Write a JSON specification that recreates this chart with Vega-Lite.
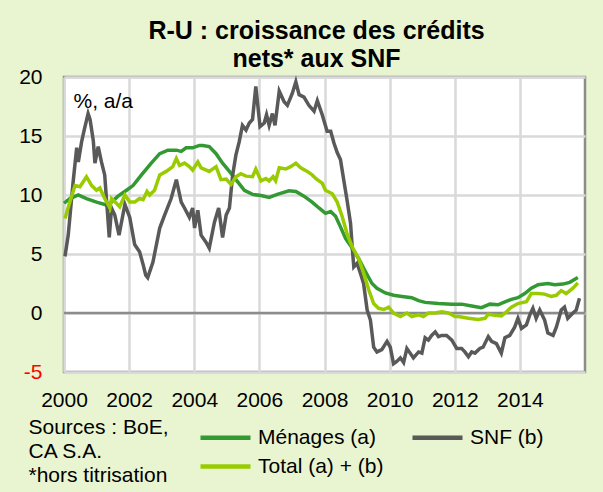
{
  "$schema": "https://vega.github.io/schema/vega-lite/v6.json",
  "width": 521,
  "height": 295,
  "autosize": {"type": "none"},
  "padding": {"left": 64, "top": 77, "right": 18, "bottom": 120},
  "background": "#e9f5d0",
  "title": {
    "text": ["R-U : croissance des crédits", "nets* aux SNF"],
    "font": "Liberation Sans",
    "fontSize": 25,
    "fontWeight": "bold",
    "color": "black",
    "anchor": "middle",
    "baseline": "alphabetic",
    "offset": 12,
    "dy": 38,
    "lineHeight": 28.3,
    "dx": -8
  },
  "config": {
    "view": {"fill": "white", "stroke": "#8c8c8c", "strokeWidth": 2.5},
    "font": "Liberation Sans",
    "legend": {
      "orient": "none",
      "direction": "horizontal",
      "legendX": 151,
      "legendY": 350,
      "columns": 2,
      "symbolType": "M-5,0H5",
      "symbolSize": 100,
      "symbolStrokeWidth": 4.5,
      "labelFontSize": 21,
      "labelFont": "Liberation Sans",
      "labelColor": "black",
      "labelOffset": 22,
      "columnPadding": 19,
      "rowPadding": 7,
      "labelLimit": 300
    }
  },
  "datasets": {
    "menages": [
      {"d": 2000.00, "v": 9.3}, {"d": 2000.18, "v": 9.7}, {"d": 2000.44, "v": 10.0}, {"d": 2000.69, "v": 9.7},
      {"d": 2001.00, "v": 9.4}, {"d": 2001.31, "v": 9.15}, {"d": 2001.46, "v": 9.4}, {"d": 2001.66, "v": 9.9},
      {"d": 2001.92, "v": 10.4}, {"d": 2002.12, "v": 10.8}, {"d": 2002.38, "v": 11.7}, {"d": 2002.68, "v": 12.7},
      {"d": 2002.94, "v": 13.5}, {"d": 2003.19, "v": 13.8}, {"d": 2003.45, "v": 13.8}, {"d": 2003.60, "v": 13.7},
      {"d": 2003.75, "v": 14.0}, {"d": 2003.95, "v": 14.0}, {"d": 2004.16, "v": 14.2}, {"d": 2004.26, "v": 14.2},
      {"d": 2004.46, "v": 14.1}, {"d": 2004.67, "v": 13.5}, {"d": 2004.87, "v": 12.7}, {"d": 2005.08, "v": 12.0},
      {"d": 2005.28, "v": 11.3}, {"d": 2005.54, "v": 10.4}, {"d": 2005.79, "v": 10.05}, {"d": 2006.05, "v": 9.95},
      {"d": 2006.30, "v": 9.8}, {"d": 2006.55, "v": 10.05}, {"d": 2006.91, "v": 10.35}, {"d": 2007.12, "v": 10.3},
      {"d": 2007.37, "v": 9.9}, {"d": 2007.62, "v": 9.4}, {"d": 2007.83, "v": 8.9}, {"d": 2008.03, "v": 8.45},
      {"d": 2008.19, "v": 8.6}, {"d": 2008.34, "v": 8.2}, {"d": 2008.49, "v": 7.3}, {"d": 2008.65, "v": 6.3},
      {"d": 2008.85, "v": 5.5}, {"d": 2009.05, "v": 4.6}, {"d": 2009.26, "v": 3.5}, {"d": 2009.46, "v": 2.5},
      {"d": 2009.61, "v": 2.1}, {"d": 2009.87, "v": 1.7}, {"d": 2010.12, "v": 1.5}, {"d": 2010.38, "v": 1.4},
      {"d": 2010.68, "v": 1.3}, {"d": 2010.89, "v": 1.05}, {"d": 2011.09, "v": 0.9}, {"d": 2011.50, "v": 0.8},
      {"d": 2011.91, "v": 0.75}, {"d": 2012.21, "v": 0.75}, {"d": 2012.52, "v": 0.6}, {"d": 2012.82, "v": 0.45},
      {"d": 2013.08, "v": 0.75}, {"d": 2013.33, "v": 0.7}, {"d": 2013.54, "v": 0.95}, {"d": 2013.74, "v": 1.15},
      {"d": 2013.94, "v": 1.3}, {"d": 2014.15, "v": 1.65}, {"d": 2014.35, "v": 2.1}, {"d": 2014.56, "v": 2.4},
      {"d": 2014.86, "v": 2.5}, {"d": 2015.07, "v": 2.4}, {"d": 2015.32, "v": 2.45}, {"d": 2015.53, "v": 2.6},
      {"d": 2015.78, "v": 3.0}
    ],
    "snf": [
      {"d": 2000.03, "v": 4.8}, {"d": 2000.13, "v": 6.6}, {"d": 2000.28, "v": 11.1}, {"d": 2000.39, "v": 14.0},
      {"d": 2000.44, "v": 12.8}, {"d": 2000.54, "v": 14.5}, {"d": 2000.62, "v": 15.5}, {"d": 2000.74, "v": 16.9},
      {"d": 2000.80, "v": 16.4}, {"d": 2000.90, "v": 14.6}, {"d": 2000.95, "v": 12.7}, {"d": 2001.05, "v": 14.1},
      {"d": 2001.15, "v": 12.8}, {"d": 2001.25, "v": 11.7}, {"d": 2001.39, "v": 6.4}, {"d": 2001.46, "v": 8.9},
      {"d": 2001.56, "v": 8.3}, {"d": 2001.69, "v": 6.6}, {"d": 2001.87, "v": 9.2}, {"d": 2002.02, "v": 8.1},
      {"d": 2002.17, "v": 5.8}, {"d": 2002.32, "v": 5.2}, {"d": 2002.43, "v": 4.1}, {"d": 2002.51, "v": 3.2},
      {"d": 2002.57, "v": 3.0}, {"d": 2002.73, "v": 4.3}, {"d": 2002.94, "v": 7.2}, {"d": 2003.09, "v": 8.3},
      {"d": 2003.29, "v": 9.7}, {"d": 2003.45, "v": 11.3}, {"d": 2003.60, "v": 9.4}, {"d": 2003.70, "v": 8.9},
      {"d": 2003.85, "v": 8.1}, {"d": 2003.95, "v": 8.9}, {"d": 2004.01, "v": 7.2}, {"d": 2004.11, "v": 8.7},
      {"d": 2004.21, "v": 6.6}, {"d": 2004.36, "v": 6.0}, {"d": 2004.46, "v": 5.5}, {"d": 2004.62, "v": 7.7},
      {"d": 2004.75, "v": 8.9}, {"d": 2004.87, "v": 6.4}, {"d": 2004.98, "v": 8.3}, {"d": 2005.08, "v": 8.9},
      {"d": 2005.18, "v": 11.7}, {"d": 2005.28, "v": 13.4}, {"d": 2005.38, "v": 14.5}, {"d": 2005.48, "v": 15.9},
      {"d": 2005.59, "v": 15.5}, {"d": 2005.69, "v": 16.1}, {"d": 2005.79, "v": 16.4}, {"d": 2005.89, "v": 19.2},
      {"d": 2006.02, "v": 15.8}, {"d": 2006.15, "v": 16.1}, {"d": 2006.22, "v": 16.8}, {"d": 2006.30, "v": 15.9},
      {"d": 2006.40, "v": 16.9}, {"d": 2006.48, "v": 15.9}, {"d": 2006.61, "v": 18.8}, {"d": 2006.76, "v": 17.9},
      {"d": 2006.86, "v": 17.6}, {"d": 2007.01, "v": 18.6}, {"d": 2007.12, "v": 19.6}, {"d": 2007.22, "v": 18.5},
      {"d": 2007.37, "v": 18.3}, {"d": 2007.52, "v": 17.6}, {"d": 2007.68, "v": 17.1}, {"d": 2007.78, "v": 18.0},
      {"d": 2007.93, "v": 16.8}, {"d": 2008.08, "v": 15.4}, {"d": 2008.19, "v": 15.4}, {"d": 2008.29, "v": 14.4},
      {"d": 2008.39, "v": 13.6}, {"d": 2008.49, "v": 13.0}, {"d": 2008.59, "v": 11.3}, {"d": 2008.69, "v": 9.6},
      {"d": 2008.80, "v": 7.6}, {"d": 2008.85, "v": 5.6}, {"d": 2008.90, "v": 3.9}, {"d": 2009.00, "v": 4.2},
      {"d": 2009.10, "v": 3.4}, {"d": 2009.20, "v": 2.5}, {"d": 2009.31, "v": 0.25}, {"d": 2009.41, "v": -0.6},
      {"d": 2009.51, "v": -2.9}, {"d": 2009.61, "v": -3.3}, {"d": 2009.76, "v": -3.1}, {"d": 2009.92, "v": -2.4},
      {"d": 2010.02, "v": -2.9}, {"d": 2010.12, "v": -4.3}, {"d": 2010.22, "v": -4.1}, {"d": 2010.33, "v": -3.8},
      {"d": 2010.43, "v": -4.2}, {"d": 2010.53, "v": -3.0}, {"d": 2010.63, "v": -3.4}, {"d": 2010.73, "v": -3.8},
      {"d": 2010.89, "v": -3.3}, {"d": 2010.99, "v": -3.4}, {"d": 2011.09, "v": -2.1}, {"d": 2011.19, "v": -2.3},
      {"d": 2011.29, "v": -1.9}, {"d": 2011.40, "v": -1.6}, {"d": 2011.50, "v": -2.0}, {"d": 2011.60, "v": -1.9},
      {"d": 2011.75, "v": -1.9}, {"d": 2011.91, "v": -2.3}, {"d": 2012.06, "v": -3.0}, {"d": 2012.21, "v": -3.0},
      {"d": 2012.31, "v": -3.3}, {"d": 2012.42, "v": -3.7}, {"d": 2012.52, "v": -3.3}, {"d": 2012.62, "v": -3.4},
      {"d": 2012.77, "v": -3.0}, {"d": 2012.87, "v": -2.9}, {"d": 2013.03, "v": -2.0}, {"d": 2013.13, "v": -2.4},
      {"d": 2013.28, "v": -2.6}, {"d": 2013.43, "v": -3.4}, {"d": 2013.54, "v": -2.1}, {"d": 2013.69, "v": -1.9},
      {"d": 2013.84, "v": -1.2}, {"d": 2013.94, "v": -0.45}, {"d": 2014.05, "v": -1.3}, {"d": 2014.20, "v": -1.0},
      {"d": 2014.30, "v": -0.2}, {"d": 2014.40, "v": 0.4}, {"d": 2014.50, "v": -0.45}, {"d": 2014.61, "v": 0.25},
      {"d": 2014.76, "v": -0.6}, {"d": 2014.86, "v": -1.7}, {"d": 2015.02, "v": -1.9}, {"d": 2015.12, "v": -1.2},
      {"d": 2015.27, "v": 0.25}, {"d": 2015.37, "v": 0.5}, {"d": 2015.47, "v": -0.45}, {"d": 2015.63, "v": 0.0},
      {"d": 2015.73, "v": 0.25}, {"d": 2015.83, "v": 1.25}
    ],
    "total": [
      {"d": 2000.03, "v": 8.0}, {"d": 2000.18, "v": 9.4}, {"d": 2000.34, "v": 10.8}, {"d": 2000.49, "v": 10.7},
      {"d": 2000.69, "v": 11.55}, {"d": 2000.85, "v": 10.8}, {"d": 2001.00, "v": 10.4}, {"d": 2001.10, "v": 10.6},
      {"d": 2001.25, "v": 9.7}, {"d": 2001.41, "v": 8.9}, {"d": 2001.46, "v": 9.7}, {"d": 2001.61, "v": 9.3},
      {"d": 2001.71, "v": 9.0}, {"d": 2001.87, "v": 10.0}, {"d": 2002.02, "v": 9.4}, {"d": 2002.17, "v": 9.4},
      {"d": 2002.32, "v": 9.7}, {"d": 2002.43, "v": 9.6}, {"d": 2002.55, "v": 10.3}, {"d": 2002.63, "v": 10.0},
      {"d": 2002.78, "v": 10.4}, {"d": 2002.94, "v": 11.7}, {"d": 2003.14, "v": 12.0}, {"d": 2003.34, "v": 12.4},
      {"d": 2003.45, "v": 13.1}, {"d": 2003.55, "v": 12.5}, {"d": 2003.70, "v": 12.7}, {"d": 2003.85, "v": 12.4},
      {"d": 2003.95, "v": 12.1}, {"d": 2004.11, "v": 12.8}, {"d": 2004.21, "v": 12.3}, {"d": 2004.46, "v": 12.0},
      {"d": 2004.67, "v": 12.4}, {"d": 2004.82, "v": 11.3}, {"d": 2004.98, "v": 11.35}, {"d": 2005.13, "v": 10.9},
      {"d": 2005.28, "v": 11.55}, {"d": 2005.43, "v": 11.8}, {"d": 2005.59, "v": 11.6}, {"d": 2005.79, "v": 11.55},
      {"d": 2005.89, "v": 12.2}, {"d": 2006.05, "v": 11.2}, {"d": 2006.20, "v": 11.4}, {"d": 2006.30, "v": 11.2},
      {"d": 2006.42, "v": 11.55}, {"d": 2006.50, "v": 11.2}, {"d": 2006.61, "v": 12.3}, {"d": 2006.81, "v": 12.2},
      {"d": 2006.96, "v": 12.4}, {"d": 2007.12, "v": 12.7}, {"d": 2007.27, "v": 12.3}, {"d": 2007.47, "v": 12.0},
      {"d": 2007.62, "v": 11.7}, {"d": 2007.73, "v": 11.4}, {"d": 2007.83, "v": 11.2}, {"d": 2007.93, "v": 11.0},
      {"d": 2008.03, "v": 10.4}, {"d": 2008.24, "v": 10.1}, {"d": 2008.39, "v": 9.4}, {"d": 2008.54, "v": 8.2},
      {"d": 2008.69, "v": 6.75}, {"d": 2008.85, "v": 5.6}, {"d": 2009.05, "v": 4.6}, {"d": 2009.20, "v": 3.4},
      {"d": 2009.36, "v": 1.95}, {"d": 2009.51, "v": 0.8}, {"d": 2009.66, "v": 0.4}, {"d": 2009.82, "v": 0.3},
      {"d": 2009.97, "v": 0.5}, {"d": 2010.12, "v": 0.0}, {"d": 2010.33, "v": -0.3}, {"d": 2010.53, "v": 0.0},
      {"d": 2010.68, "v": -0.3}, {"d": 2010.89, "v": -0.15}, {"d": 2011.04, "v": -0.3}, {"d": 2011.19, "v": 0.0},
      {"d": 2011.40, "v": 0.0}, {"d": 2011.60, "v": 0.1}, {"d": 2011.80, "v": 0.0}, {"d": 2012.01, "v": -0.3},
      {"d": 2012.11, "v": -0.3}, {"d": 2012.42, "v": -0.45}, {"d": 2012.72, "v": -0.55}, {"d": 2012.93, "v": -0.45},
      {"d": 2013.03, "v": -0.1}, {"d": 2013.23, "v": -0.2}, {"d": 2013.43, "v": -0.25}, {"d": 2013.59, "v": 0.1},
      {"d": 2013.74, "v": 0.5}, {"d": 2013.94, "v": 0.8}, {"d": 2014.20, "v": 0.95}, {"d": 2014.35, "v": 1.65},
      {"d": 2014.56, "v": 1.65}, {"d": 2014.76, "v": 1.6}, {"d": 2014.96, "v": 1.4}, {"d": 2015.12, "v": 1.5},
      {"d": 2015.27, "v": 1.9}, {"d": 2015.42, "v": 1.65}, {"d": 2015.63, "v": 2.1}, {"d": 2015.78, "v": 2.55}
    ]
  },
  "layer": [
    {
      "data": {"values": [{"z": 0}]},
      "mark": {"type": "rule", "color": "#8c8c8c", "strokeWidth": 2.5},
      "encoding": {
        "y": {
          "field": "z",
          "type": "quantitative",
          "scale": {"domain": [-5, 20], "nice": false, "zero": false},
          "axis": {
            "values": [-5, 0, 5, 10, 15, 20],
            "title": "%, a/a",
            "titleAngle": 0,
            "titleAlign": "left",
            "titleBaseline": "alphabetic",
            "titleX": 9,
            "titleY": 30,
            "titleFontSize": 21,
            "titleFontWeight": "normal",
            "titleColor": "black",
            "titleFont": "Liberation Sans",
            "labelFontSize": 21,
            "labelFont": "Liberation Sans",
            "labelColor": {"condition": {"test": "datum.value < 0", "value": "#ff0000"}, "value": "black"},
            "labelExpr": "replace(datum.label, '\u2212', '-')",
            "labelPadding": 22,
            "labelFlush": false,
            "ticks": false,
            "domain": false,
            "gridColor": "#d9d9d9",
            "gridWidth": 2.5
          }
        }
      }
    },
    {
      "data": {"name": "menages"},
      "mark": {"type": "line", "strokeWidth": 3.5},
      "encoding": {
        "x": {
          "field": "d",
          "type": "quantitative",
          "scale": {"domain": [2000, 2016], "nice": false, "zero": false},
          "axis": {
            "values": [2000, 2002, 2004, 2006, 2008, 2010, 2012, 2014],
            "format": "d",
            "title": ["Sources : BoE,", "CA S.A.", "*hors titrisation"],
            "titleX": -36,
            "titleY": 44,
            "titleAlign": "left",
            "titleBaseline": "top",
            "titleFontSize": 21,
            "titleFontWeight": "normal",
            "titleColor": "black",
            "titleFont": "Liberation Sans",
            "titleLineHeight": 24.3,
            "labelFontSize": 21,
            "labelFont": "Liberation Sans",
            "labelColor": "black",
            "labelPadding": 17,
            "labelFlush": false,
            "ticks": false,
            "domain": false,
            "gridColor": "#d9d9d9",
            "gridWidth": 2.5
          }
        },
        "y": {"field": "v", "type": "quantitative"},
        "color": {
          "datum": "Ménages (a)",
          "type": "nominal",
          "scale": {"domain": ["Ménages (a)", "SNF (b)", "Total (a) + (b)"], "range": ["#339933", "#595959", "#99cc00"]},
          "legend": {"title": null, "values": ["Ménages (a)", "SNF (b)", "Total (a) + (b)"]}
        }
      }
    },
    {
      "data": {"name": "snf"},
      "mark": {"type": "line", "strokeWidth": 3.5},
      "encoding": {
        "x": {"field": "d", "type": "quantitative"},
        "y": {"field": "v", "type": "quantitative"},
        "color": {"datum": "SNF (b)", "type": "nominal"}
      }
    },
    {
      "data": {"name": "total"},
      "mark": {"type": "line", "strokeWidth": 3.5},
      "encoding": {
        "x": {"field": "d", "type": "quantitative"},
        "y": {"field": "v", "type": "quantitative"},
        "color": {"datum": "Total (a) + (b)", "type": "nominal"}
      }
    }
  ]
}
